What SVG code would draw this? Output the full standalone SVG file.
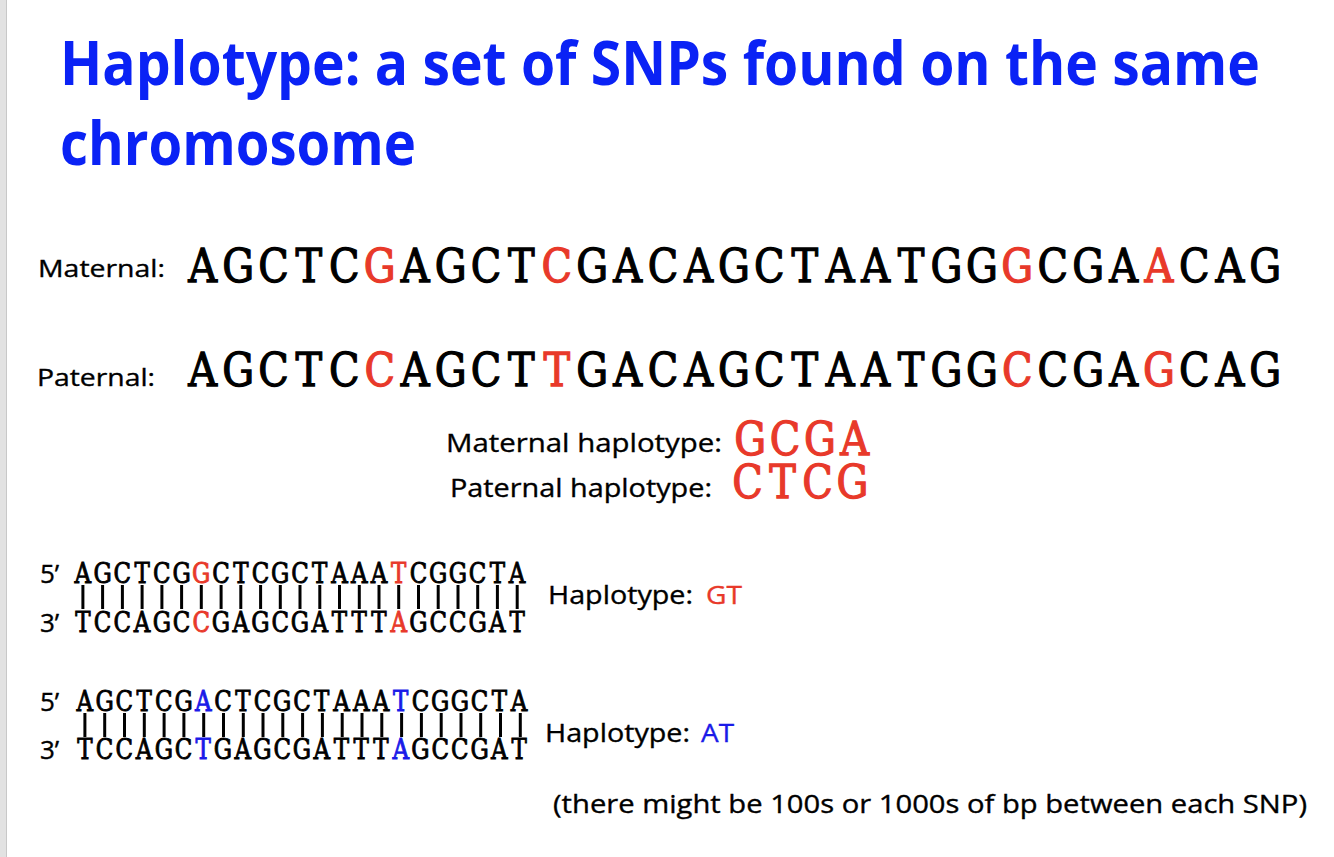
<svg xmlns="http://www.w3.org/2000/svg" width="1334" height="857" viewBox="0 0 1334 857">
<style>
.title{font-family:"Open Sans","Liberation Sans",sans-serif;font-weight:bold;font-size:60px;fill:#0A22F5}
.lab{font-family:"Open Sans","Liberation Sans",sans-serif;fill:#000;stroke:#000;stroke-width:0.35}
.seq{font-family:"DejaVu Serif","Liberation Serif",serif;fill:#000;stroke:#000;text-anchor:middle}
.big{font-size:47px;stroke-width:1.3}
.small{font-size:27px;stroke-width:0.9}
.r{fill:#E8392A;stroke:#E8392A}
.b{fill:#1A1AE8;stroke:#1A1AE8}
.bars{stroke:#000;stroke-width:3;fill:none}
</style>
<rect x="0" y="0" width="1334" height="857" fill="#fff"/>
<rect x="0" y="0" width="7" height="857" fill="#e2e2e2"/>
<rect x="6" y="0" width="1" height="857" fill="#c8c8c8"/>

<g id="title">
<text class="title" x="60" y="85" textLength="1200" lengthAdjust="spacingAndGlyphs">Haplotype: a set of SNPs found on the same</text>
<text class="title" x="60" y="165" textLength="356" lengthAdjust="spacingAndGlyphs">chromosome</text>
</g>

<g id="maternal">
<text class="lab" x="38" y="277" font-size="24" textLength="127" lengthAdjust="spacingAndGlyphs">Maternal:</text>
<text class="seq big" transform="translate(185,282) scale(0.85,1)" y="0"><tspan x="20.8 62.5 104.2 145.8 187.5">AGCTC</tspan><tspan class="r" x="229.2">G</tspan><tspan x="270.8 312.5 354.2 395.8">AGCT</tspan><tspan class="r" x="437.5">C</tspan><tspan x="479.2 520.8 562.5 604.2 645.8 687.5 729.2 770.8 812.5 854.2 895.8 937.5">GACAGCTAATGG</tspan><tspan class="r" x="979.2">G</tspan><tspan x="1020.8 1062.5 1104.2">CGA</tspan><tspan class="r" x="1145.8">A</tspan><tspan x="1187.5 1229.2 1270.8">CAG</tspan></text>
</g>

<g id="paternal">
<text class="lab" x="37" y="386" font-size="24" textLength="118" lengthAdjust="spacingAndGlyphs">Paternal:</text>
<text class="seq big" transform="translate(185,386) scale(0.85,1)" y="0"><tspan x="20.8 62.5 104.2 145.8 187.5">AGCTC</tspan><tspan class="r" x="229.2">C</tspan><tspan x="270.8 312.5 354.2 395.8">AGCT</tspan><tspan class="r" x="437.5">T</tspan><tspan x="479.2 520.8 562.5 604.2 645.8 687.5 729.2 770.8 812.5 854.2 895.8 937.5">GACAGCTAATGG</tspan><tspan class="r" x="979.2">C</tspan><tspan x="1020.8 1062.5 1104.2">CGA</tspan><tspan class="r" x="1145.8">G</tspan><tspan x="1187.5 1229.2 1270.8">CAG</tspan></text>
</g>

<g id="haplotypes">
<text class="lab" x="446" y="452" font-size="25" textLength="276" lengthAdjust="spacingAndGlyphs">Maternal haplotype:</text>
<text class="seq big r" transform="translate(733,455) scale(0.85,1)" y="0" x="20.4 61.3 102.2 143.1">GCGA</text>
<text class="lab" x="450" y="497" font-size="25" textLength="262" lengthAdjust="spacingAndGlyphs">Paternal haplotype:</text>
<text class="seq big r" transform="translate(730,498) scale(0.85,1)" y="0" x="20.6 61.8 103 144.1">CTCG</text>
</g>

<g id="dna1">
<text class="lab" x="40" y="583" font-size="26">5’</text>
<text class="seq small" transform="translate(73,583) scale(0.85,1)" y="0"><tspan x="11.6 34.8 58.0 81.3 104.5 127.7">AGCTCG</tspan><tspan class="r" x="150.9">G</tspan><tspan x="174.1 197.4 220.6 243.8 267.0 290.3 313.5 336.7 359.9">CTCGCTAAA</tspan><tspan class="r" x="383.2">T</tspan><tspan x="406.4 429.6 452.8 476.0 499.3 522.5">CGGCTA</tspan></text>
<path class="bars" d="M82.9 585V609M102.6 585V609M122.4 585V609M142.1 585V609M161.9 585V609M181.6 585V609M201.3 585V609M221.1 585V609M240.8 585V609M260.6 585V609M280.3 585V609M300 585V609M319.8 585V609M339.5 585V609M359.3 585V609M379 585V609M398.7 585V609M418.5 585V609M438.2 585V609M458 585V609M477.7 585V609M497.4 585V609M517.2 585V609"/>
<text class="lab" x="40" y="632" font-size="26">3’</text>
<text class="seq small" transform="translate(73,632) scale(0.85,1)" y="0"><tspan x="11.6 34.8 58.0 81.3 104.5 127.7">TCCAGC</tspan><tspan class="r" x="150.9">C</tspan><tspan x="174.1 197.4 220.6 243.8 267.0 290.3 313.5 336.7 359.9">GAGCGATTT</tspan><tspan class="r" x="383.2">A</tspan><tspan x="406.4 429.6 452.8 476.0 499.3 522.5">GCCGAT</tspan></text>
<text class="lab" x="548" y="604" font-size="25" textLength="145" lengthAdjust="spacingAndGlyphs">Haplotype:</text>
<text class="lab r" x="706" y="604" font-size="25" textLength="36" lengthAdjust="spacingAndGlyphs">GT</text>
</g>

<g id="dna2">
<text class="lab" x="40" y="711" font-size="26">5’</text>
<text class="seq small" transform="translate(75,711) scale(0.85,1)" y="0"><tspan x="11.6 34.8 58.0 81.3 104.5 127.7">AGCTCG</tspan><tspan class="b" x="150.9">A</tspan><tspan x="174.1 197.4 220.6 243.8 267.0 290.3 313.5 336.7 359.9">CTCGCTAAA</tspan><tspan class="b" x="383.2">T</tspan><tspan x="406.4 429.6 452.8 476.0 499.3 522.5">CGGCTA</tspan></text>
<path class="bars" d="M84.9 713V737M104.7 713V737M124.5 713V737M144.3 713V737M164.1 713V737M183.9 713V737M203.7 713V737M223.5 713V737M243.3 713V737M263 713V737M282.8 713V737M302.6 713V737M322.4 713V737M342.2 713V737M362 713V737M381.8 713V737M401.6 713V737M421.4 713V737M441.2 713V737M461 713V737M480.7 713V737M500.5 713V737M520.3 713V737"/>
<text class="lab" x="40" y="759" font-size="26">3’</text>
<text class="seq small" transform="translate(75,759) scale(0.85,1)" y="0"><tspan x="11.6 34.8 58.0 81.3 104.5 127.7">TCCAGC</tspan><tspan class="b" x="150.9">T</tspan><tspan x="174.1 197.4 220.6 243.8 267.0 290.3 313.5 336.7 359.9">GAGCGATTT</tspan><tspan class="b" x="383.2">A</tspan><tspan x="406.4 429.6 452.8 476.0 499.3 522.5">GCCGAT</tspan></text>
<text class="lab" x="545" y="742" font-size="25" textLength="145" lengthAdjust="spacingAndGlyphs">Haplotype:</text>
<text class="lab b" x="701" y="742" font-size="25" textLength="33" lengthAdjust="spacingAndGlyphs">AT</text>
</g>

<g id="note">
<text class="lab" x="553" y="813" font-size="25" textLength="754" lengthAdjust="spacingAndGlyphs">(there might be 100s or 1000s of bp between each SNP)</text>
</g>
</svg>
